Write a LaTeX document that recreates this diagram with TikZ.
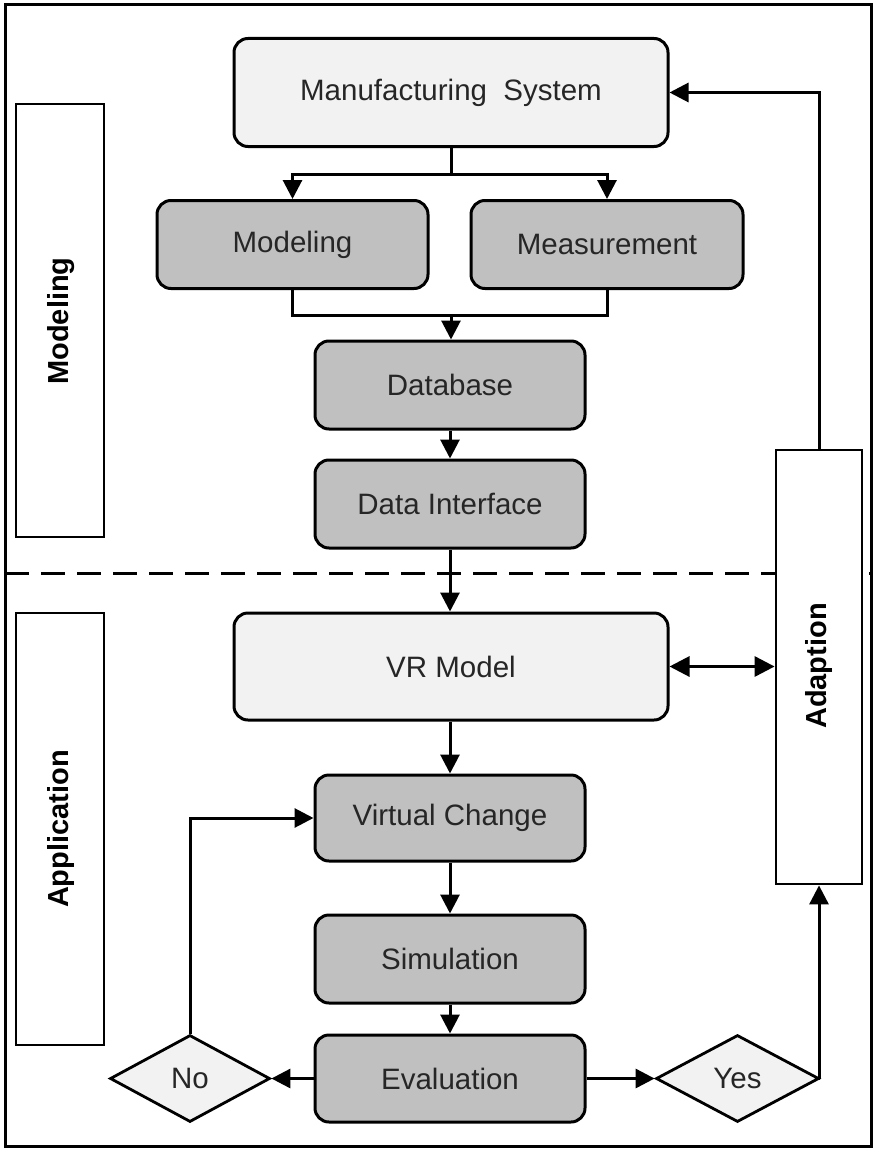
\documentclass[tikz,border=0pt]{standalone}
\usepackage{fontspec}
\setmainfont{Liberation Sans}
\usetikzlibrary{shapes.geometric,arrows.meta}
\definecolor{lightfill}{HTML}{F2F2F2}
\definecolor{darkfill}{HTML}{C0C0C0}
\definecolor{txt}{HTML}{262626}
\begin{document}
\begin{tikzpicture}[x=1pt,y=-1pt,
  every node/.style={text=txt,font=\fontsize{29.5}{32}\selectfont},
  box/.style={draw=black,line width=3pt,rounded corners=14pt,inner sep=0pt},
  lightbox/.style={box,fill=lightfill,minimum width=434pt,minimum height=108pt},
  darkbox/.style={box,fill=darkfill,minimum width=270pt,minimum height=88pt},
  sidebox/.style={draw=black,line width=2.8pt,fill=white,inner sep=0pt,minimum width=88pt},
  sidelabel/.style={font=\fontsize{29}{32}\selectfont\bfseries,text=black,rotate=90},
  decision/.style={diamond,draw=black,line width=2.8pt,fill=lightfill,inner sep=0pt,minimum width=160pt,minimum height=87pt},
  conn/.style={line width=3pt},
  arr/.style={conn,-{Triangle[length=19pt,width=19pt]}},
  darr/.style={conn,{Triangle[length=20pt,width=20pt]}-{Triangle[length=20pt,width=20pt]}}
]
\useasboundingbox (0,0) rectangle (875,1153);
% outer frame and separator
\draw[line width=3pt] (5,5) rectangle (871,1146);
\draw[line width=3pt,dash pattern=on 24pt off 12pt] (5,573) -- (871,573);

% side labels
\node[sidebox,minimum height=433pt] (lm) at (60,320.5) {};
\node[sidelabel] (lmt) at (61,321) {Modeling};
\node[sidebox,minimum height=432pt] (la) at (60,829) {};
\node[sidelabel] (lat) at (61,829) {Application};
\node[sidebox,minimum width=86pt,minimum height=434pt] (ad) at (819,667) {};
\node[sidelabel] (adt) at (819,666) {Adaption};

% main nodes
\node[lightbox] (ms) at (451,92.5) {Manufacturing\ \ System};
\node[darkbox,minimum width=271pt] (mod) at (292.5,244.5) {Modeling};
\node[darkbox,minimum width=272pt] (mea) at (607,244.5) {Measurement};
\node[darkbox] (db) at (450,385) {Database};
\node[darkbox] (di) at (450,504) {Data Interface};
\node[lightbox,minimum height=107pt] (vr) at (451,666.5) {VR Model};
\node[darkbox,minimum height=86pt] (vc) at (450,818) {Virtual Change};
\node[darkbox] (sim) at (450,959) {Simulation};
\node[darkbox,minimum height=87pt] (ev) at (450,1078.5) {Evaluation};
\node[decision] (no) at (190,1078.5) {No};
\node[decision,minimum width=163pt] (yes) at (737.5,1078.5) {Yes};

% connectors
\coordinate (j1) at (451,174);
\coordinate (j2) at (451,315);
\draw[conn] (ms.south) -- (j1);
\draw[arr] (j1) -| (mod.north);
\draw[arr] (j1) -| (mea.north);
\draw[conn] (mod.south) |- (j2);
\draw[conn] (mea.south) |- (j2);
\draw[arr] (j2) -- (j2 |- db.north);
\draw[arr] (db.south) -- (di.north);
\draw[arr] (di.south) -- (di.south |- vr.north);
\draw[darr] (vr.east) -- (vr.east -| ad.west);
\draw[arr] (vr.south -| vc.north) -- (vc.north);
\draw[arr] (vc.south) -- (sim.north);
\draw[arr] (sim.south) -- (ev.north);
\draw[arr] (ev.west) -- (no.east);
\draw[arr] (ev.east) -- (yes.west);
\draw[arr] (no.north) |- (vc.west);
\draw[arr] (yes.east) -| (ad.south);
\draw[arr] (ad.north) |- (ms.east);
\end{tikzpicture}
\end{document}
